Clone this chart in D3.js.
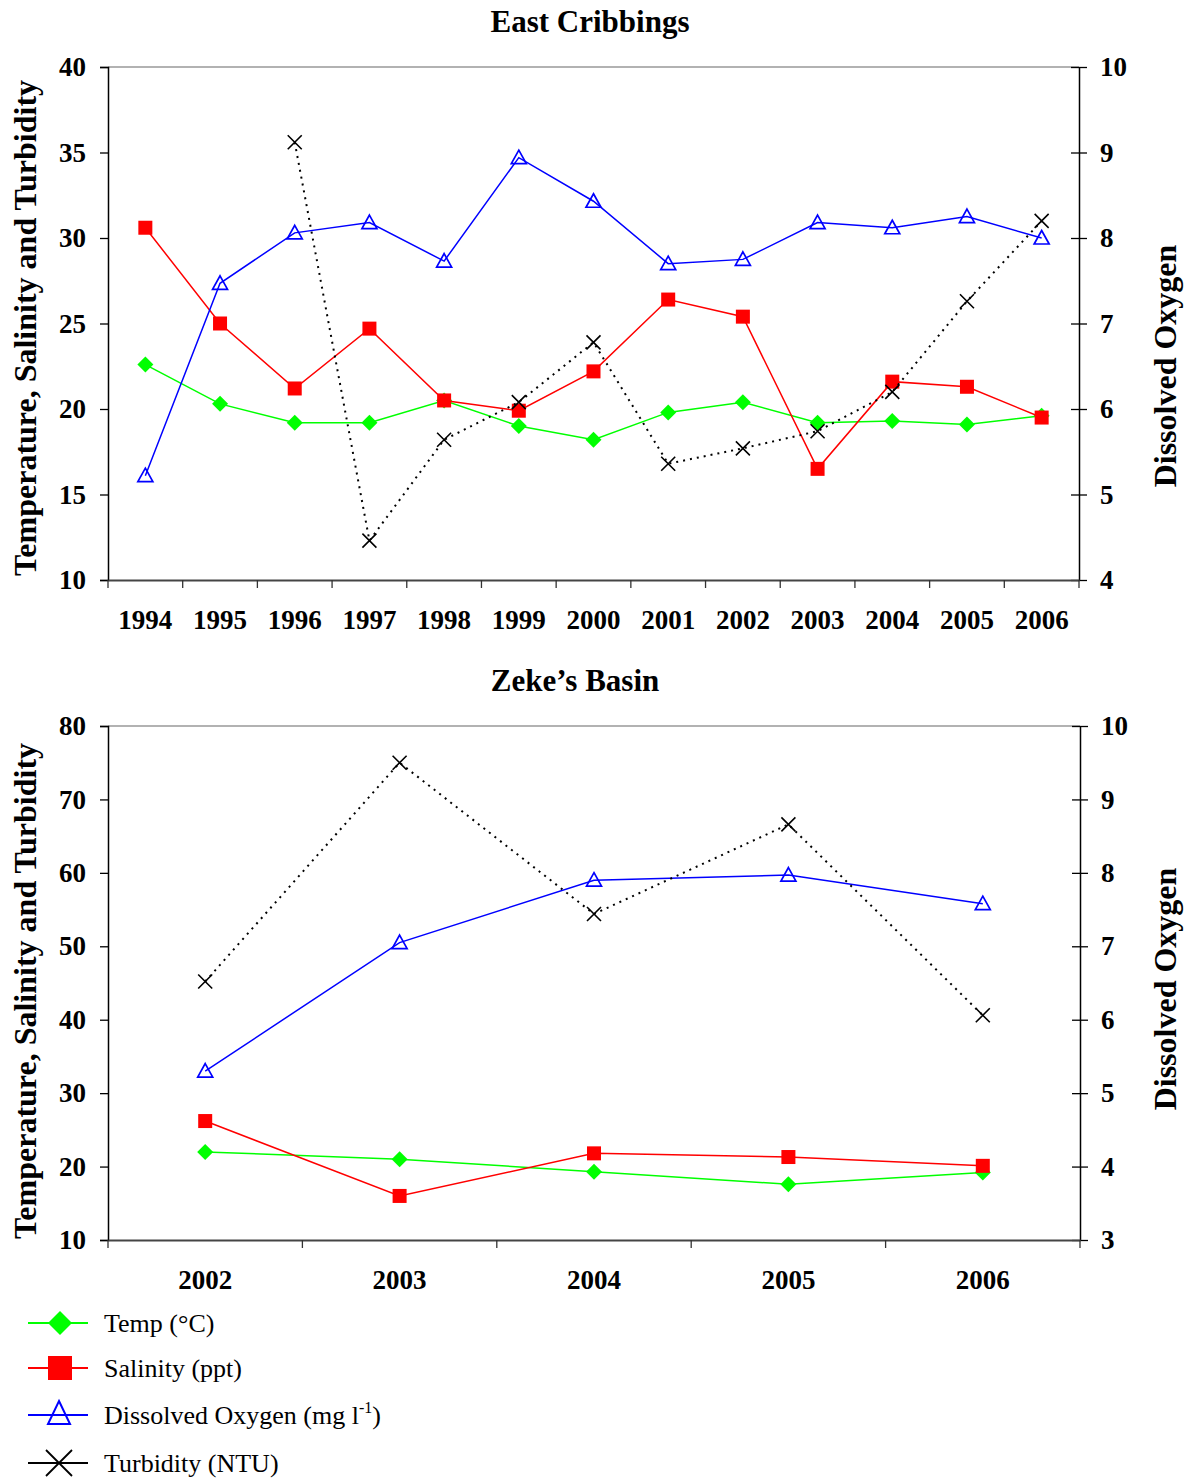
<!DOCTYPE html>
<html>
<head>
<meta charset="utf-8">
<script src="https://cdn.jsdelivr.net/npm/d3@7"></script>
<style>
  body { margin: 0; background: #fff; }
  text { font-family: "Liberation Serif", "Times New Roman", serif; }
</style>
</head>
<body>
<svg id="chart" width="1190" height="1479"></svg>
<script>
// East Cribbings
const years_ec = ['1994','1995','1996','1997','1998','1999','2000','2001','2002','2003','2004','2005','2006'];
const temp_ec = [22.6, 20.3, 19.2, 19.2, 20.5, 19.0, 18.2, 19.8, 20.4, 19.2, 19.3, 19.1, 19.6];
const sal_ec = [30.6, 25.0, 21.2, 24.7, 20.5, 19.9, 22.2, 26.4, 25.4, 16.5, 21.6, 21.3, 19.5];
const do_ec = [5.22, 7.47, 8.06, 8.18, 7.73, 8.94, 8.43, 7.70, 7.75, 8.18, 8.12, 8.25, 8.0];
const turb_ec = [null, null, 35.6, 12.3, 18.2, 20.4, 23.9, 16.8, 17.7, 18.7, 21.0, 26.3, 31.0];
const leftTicks_ec = [10, 15, 20, 25, 30, 35, 40];
const rightTicks_ec = [4, 5, 6, 7, 8, 9, 10];

// Zeke's Basin
const years_zb = ['2002','2003','2004','2005','2006'];
const temp_zb = [22.0, 21.0, 19.3, 17.6, 19.2];
const sal_zb = [26.2, 16.0, 21.8, 21.3, 20.1];
const do_zb = [5.30, 7.05, 7.90, 7.97, 7.58];
const turb_zb = [45.2, 75.0, 54.4, 66.6, 40.6];
const leftTicks_zb = [10, 20, 30, 40, 50, 60, 70, 80];
const rightTicks_zb = [3, 4, 5, 6, 7, 8, 9, 10];

const seriesNames = ['Temp (°C)', 'Salinity (ppt)', 'Dissolved Oxygen (mg l', 'Turbidity (NTU)'];

const svg = d3.select('#chart');

function marker(g, type, x, y) {
  if (type === 'diamond') {
    g.append('path').attr('d', `M${x},${y-8}L${x+8},${y}L${x},${y+8}L${x-8},${y}Z`)
      .attr('fill', '#00ff00');
  } else if (type === 'square') {
    g.append('rect').attr('x', x - 7).attr('y', y - 7).attr('width', 14).attr('height', 14)
      .attr('fill', '#ff0000');
  } else if (type === 'triangle') {
    g.append('path').attr('d', `M${x},${y-7.5}L${x+7.5},${y+6}L${x-7.5},${y+6}Z`)
      .attr('fill', 'none').attr('stroke', '#0000ff').attr('stroke-width', 1.7);
  } else {
    g.append('path').attr('d', `M${x-7},${y-7}L${x+7},${y+7}M${x+7},${y-7}L${x-7},${y+7}`)
      .attr('stroke', '#000').attr('stroke-width', 1.6);
  }
}

function drawPanel(cfg) {
  const x = d3.scaleBand().domain(cfg.years).range([cfg.left, cfg.right]);
  const yL = d3.scaleLinear().domain(d3.extent(cfg.leftTicks)).range([cfg.bottom, cfg.top]);
  const yR = d3.scaleLinear().domain(d3.extent(cfg.rightTicks)).range([cfg.bottom, cfg.top]);
  const g = svg.append('g');
  const cx = d => x(d) + x.bandwidth() / 2;

  // top border
  g.append('line').attr('x1', cfg.left).attr('x2', cfg.right).attr('y1', cfg.top).attr('y2', cfg.top)
    .attr('stroke', '#999').attr('stroke-width', 1.5);

  // left axis
  const ax = g.append('g').attr('transform', `translate(${cfg.left},0)`)
    .call(d3.axisLeft(yL).tickValues(cfg.leftTicks).tickFormat(d3.format('d')).tickSize(8).tickPadding(14));
  ax.select('.domain').attr('stroke', '#000').attr('stroke-width', 1.5);
  ax.selectAll('.tick line').attr('stroke', '#000').attr('stroke-width', 1.3);
  ax.selectAll('text').attr('font-size', 27).attr('font-weight', 'bold')
    .attr('font-family', 'Liberation Serif').attr('fill', '#000');

  // right axis
  const ar = g.append('g').attr('transform', `translate(${cfg.right},0)`)
    .call(d3.axisRight(yR).tickValues(cfg.rightTicks).tickFormat(d3.format('d'))
      .tickSizeInner(8).tickSizeOuter(0).tickPadding(13));
  ar.select('.domain').attr('stroke', '#000').attr('stroke-width', 1.5);
  ar.selectAll('.tick line').attr('x1', -8).attr('stroke', '#000').attr('stroke-width', 1.3);
  ar.selectAll('text').attr('font-size', 27).attr('font-weight', 'bold')
    .attr('font-family', 'Liberation Serif').attr('fill', '#000');

  // bottom axis: labels centred in bands, ticks on boundaries
  const ab = g.append('g').attr('transform', `translate(0,${cfg.bottom})`)
    .call(d3.axisBottom(x).tickSize(0).tickPadding(cfg.labelPad));
  ab.select('.domain').attr('stroke', '#444').attr('stroke-width', 2);
  ab.selectAll('text').attr('font-size', 27).attr('font-weight', 'bold')
    .attr('font-family', 'Liberation Serif').attr('fill', '#000');
  const bounds = cfg.years.map(d => x(d)).concat([cfg.right]);
  g.selectAll('.xt').data(bounds).enter().append('line')
    .attr('x1', d => d).attr('x2', d => d)
    .attr('y1', cfg.bottom).attr('y2', cfg.bottom + 8)
    .attr('stroke', '#333').attr('stroke-width', 1.3);

  // titles
  g.append('text').attr('x', cfg.titleX).attr('y', cfg.titleY).attr('text-anchor', 'middle')
    .attr('font-size', 31).attr('font-weight', 'bold').text(cfg.title);
  g.append('text').attr('transform', `translate(36,${cfg.leftTitleY}) rotate(-90)`)
    .attr('text-anchor', 'middle').attr('font-size', 32).attr('font-weight', 'bold')
    .text('Temperature, Salinity and Turbidity');
  g.append('text').attr('transform', `translate(1176,${cfg.rightTitleY}) rotate(-90)`)
    .attr('text-anchor', 'middle').attr('font-size', 32).attr('font-weight', 'bold')
    .text('Dissolved Oxygen');

  const series = [
    { vals: cfg.temp, y: yL, color: '#00ff00', type: 'diamond', dash: null },
    { vals: cfg.sal, y: yL, color: '#ff0000', type: 'square', dash: null },
    { vals: cfg.do, y: yR, color: '#0000ff', type: 'triangle', dash: null },
    { vals: cfg.turb, y: yL, color: '#000', type: 'x', dash: '2,5' }
  ];

  series.forEach(s => {
    const pts = cfg.years.map((d, i) => ({ x: cx(d), v: s.vals[i] })).filter(p => p.v != null);
    const line = d3.line().x(p => p.x).y(p => s.y(p.v));
    const path = g.append('path').datum(pts).attr('d', line)
      .attr('fill', 'none').attr('stroke', s.color).attr('stroke-width', s.dash ? 2 : 1.5);
    if (s.dash) path.attr('stroke-dasharray', s.dash);
    pts.forEach(p => marker(g, s.type, p.x, s.y(p.v)));
  });
}

drawPanel({
  title: 'East Cribbings', titleX: 590, titleY: 32,
  years: years_ec, temp: temp_ec, sal: sal_ec, do: do_ec, turb: turb_ec,
  leftTicks: leftTicks_ec, rightTicks: rightTicks_ec,
  left: 108, right: 1079, top: 67, bottom: 580, labelPad: 30,
  leftTitleY: 328, rightTitleY: 366
});

drawPanel({
  title: 'Zeke’s Basin', titleX: 575, titleY: 691,
  years: years_zb, temp: temp_zb, sal: sal_zb, do: do_zb, turb: turb_zb,
  leftTicks: leftTicks_zb, rightTicks: rightTicks_zb,
  left: 108, right: 1080, top: 726, bottom: 1240, labelPad: 30,
  leftTitleY: 991, rightTitleY: 989
});

// legend
const types = ['diamond', 'square', 'triangle', 'x'];
const colors = ['#00ff00', '#ff0000', '#0000ff', '#000'];
const legendY = [1323, 1368, 1415, 1463];
const lg = svg.append('g');
seriesNames.forEach((name, i) => {
  const y = legendY[i];
  lg.append('line').attr('x1', 28).attr('x2', 88).attr('y1', y).attr('y2', y)
    .attr('stroke', colors[i]).attr('stroke-width', 1.8);
  if (types[i] === 'diamond') {
    lg.append('path').attr('d', `M60,${y-12}L72,${y}L60,${y+12}L48,${y}Z`).attr('fill', '#00ff00');
  } else if (types[i] === 'square') {
    lg.append('rect').attr('x', 48).attr('y', y - 12).attr('width', 24).attr('height', 24).attr('fill', '#ff0000');
  } else if (types[i] === 'triangle') {
    lg.append('path').attr('d', `M59,${y-14}L70,${y+9}L48,${y+9}Z`)
      .attr('fill', 'none').attr('stroke', '#0000ff').attr('stroke-width', 2);
  } else {
    lg.append('path').attr('d', `M46,${y-13}L72,${y+13}M72,${y-13}L46,${y+13}`)
      .attr('stroke', '#000').attr('stroke-width', 1.8);
  }
  const t = lg.append('text').attr('x', 104).attr('y', y + 9).attr('font-size', 26).attr('fill', '#000');
  t.append('tspan').text(name);
  if (i === 2) {
    t.append('tspan').attr('font-size', 16).attr('dy', -11).text('-1');
    t.append('tspan').attr('dy', 11).text(')');
  }
});
</script>
</body>
</html>
